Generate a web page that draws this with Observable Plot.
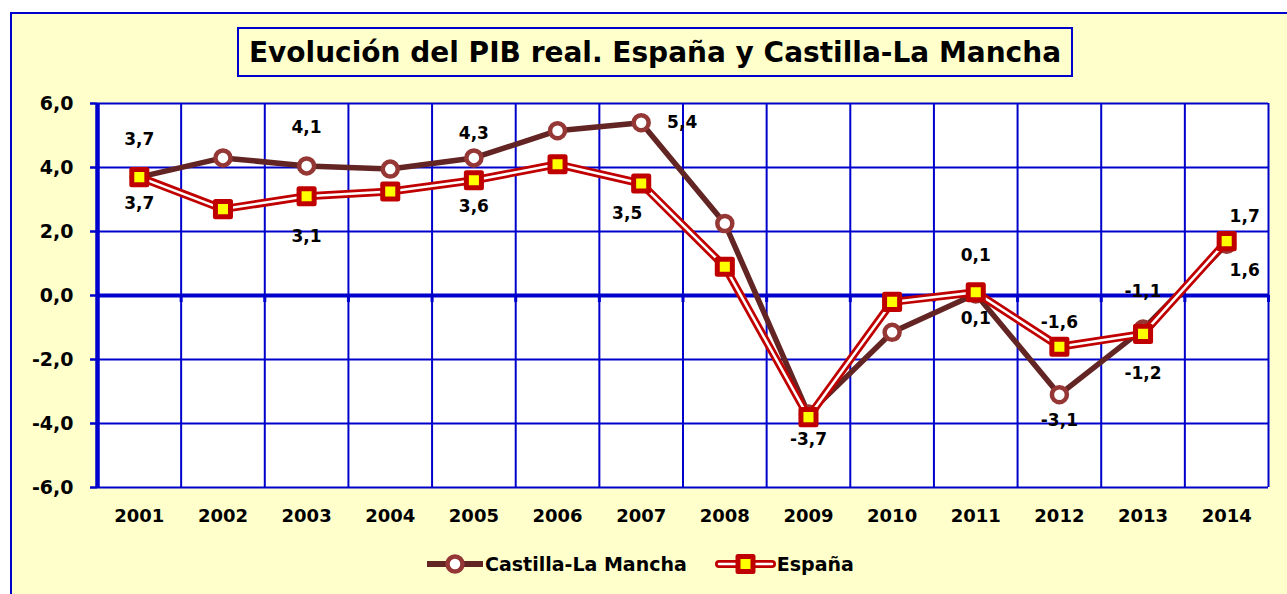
<!DOCTYPE html>
<html><head><meta charset="utf-8">
<script src="https://cdn.jsdelivr.net/npm/d3@7"></script>
<script src="https://cdn.jsdelivr.net/npm/@observablehq/plot@0.6"></script>
<style>
body{margin:0;background:#fff;}
#wrap{position:relative;width:1287px;height:594px;overflow:hidden;font-family:"DejaVu Sans",sans-serif;}
#panel{position:absolute;left:10px;top:12px;width:1320px;height:620px;background:#FFFFCC;border:2px solid #0000CC;box-sizing:border-box;}
#title{position:absolute;left:237px;top:27px;width:836px;height:50px;border:2px solid #0000CC;box-sizing:border-box;background:#FFFFCC;font-weight:bold;font-size:28px;display:flex;align-items:center;justify-content:center;white-space:nowrap;color:#000;}
#chart{position:absolute;left:0;top:0;}
#legend{position:absolute;top:551px;left:427px;display:flex;align-items:center;font-weight:bold;font-size:19px;color:#000;white-space:nowrap;}
#legend .item{display:flex;align-items:center;}
#legend svg{display:block;}
</style></head>
<body>
<div id="wrap">
  <div id="panel"></div>
  <div id="chart"></div>
  <div id="title">Evolución del PIB real. España y Castilla-La Mancha</div>
  <div id="legend"></div>
</div>
<script>
// ---- data ----
const years = [2001,2002,2003,2004,2005,2006,2007,2008,2009,2010,2011,2012,2013,2014];
const clmValues = [3.7,4.3,4.05,3.95,4.3,5.15,5.4,2.25,-3.7,-1.15,0.05,-3.1,-1.05,1.6];
const espValues = [3.7,2.7,3.1,3.25,3.6,4.1,3.5,0.9,-3.8,-0.2,0.1,-1.6,-1.2,1.7];
const yTicks = [-6,-4,-2,0,2,4,6];
const seriesNames = ["Castilla-La Mancha","España"];
// data labels: year, series index, text, placement
const labelYears  = [2001,2003,2005,2007,2009,2011,2012,2013,2014, 2001,2003,2005,2007,2011,2012,2013,2014];
const labelSeries = [0,0,0,0,0,0,0,0,0, 1,1,1,1,1,1,1,1];
const labelTexts  = ["3,7","4,1","4,3","5,4","-3,7","0,1","-3,1","-1,1","1,6", "3,7","3,1","3,6","3,5","0,1","-1,6","-1,2","1,7"];
const labelPlaces = ["high","high","above","right","below","high","below","high","belowright", "below","low","below","belowleft","below","above","low","aboveright"];

// ---- build tables ----
const clm = years.map((y,i)=>({year:y, value:clmValues[i]}));
const esp = years.map((y,i)=>({year:y, value:espValues[i]}));
const labels = labelYears.map((y,i)=>({
  year:y, text:labelTexts[i], place:labelPlaces[i],
  value:(labelSeries[i]===0?clmValues:espValues)[years.indexOf(y)]
}));
const boundaries = d3.range(years.length+1).map(i=>years[0]-0.5+i);

const BLUE = "#0000CC";
const offsets = {
  high:[0,-38], above:[0,-24], below:[0,26], low:[0,40],
  right:[41,0], belowright:[18,26], aboveright:[18,-25], belowleft:[-14,30]
};
const labelMarks = Object.entries(offsets).map(([p,[dx,dy]]) =>
  Plot.text(labels.filter(d=>d.place===p), {
    x:"year", y:"value", text:"text", dx, dy,
    fontSize:17, fontWeight:"bold", fill:"black"
  })
);
const fmt = d => d3.format(".1f")(d).replace(".",",").replace("−","-");

const chart = Plot.plot({
  width:1287, height:594,
  marginLeft:97, marginRight:19, marginTop:103, marginBottom:107,
  style:{background:"transparent", fontFamily:"DejaVu Sans, sans-serif", overflow:"visible"},
  x:{type:"linear", domain:[years[0]-0.5, years[years.length-1]+0.5]},
  y:{domain:[-6,6]},
  marks:[
    Plot.frame({fill:"white", stroke:null}),
    Plot.ruleY(yTicks, {stroke:BLUE, strokeWidth:2}),
    Plot.ruleX(boundaries, {stroke:BLUE, strokeWidth:2}),
    Plot.ruleY([0], {stroke:BLUE, strokeWidth:4}),
    Plot.ruleX(boundaries, {y1:0, y2:-0.22, stroke:BLUE, strokeWidth:3}),
    Plot.ruleX([boundaries[0]], {stroke:BLUE, strokeWidth:4.5}),
    Plot.axisY({ticks:yTicks, tickSize:7, tickPadding:17, stroke:BLUE, strokeWidth:2.5,
      fill:"black", tickFormat:fmt, fontSize:19, fontWeight:"bold", label:null}),
    Plot.axisX({ticks:years, tickSize:0, tickPadding:22, tickFormat:d=>String(d),
      fill:"black", fontSize:18, fontWeight:"bold", label:null}),
    Plot.line(clm, {x:"year", y:"value", stroke:"#632523", strokeWidth:5.5}),
    Plot.dot(clm, {x:"year", y:"value", r:7.5, fill:"white", stroke:"#953735", strokeWidth:4.5}),
    Plot.line(esp, {x:"year", y:"value", stroke:"#C00000", strokeWidth:8}),
    Plot.line(esp, {x:"year", y:"value", stroke:"white", strokeWidth:2.5}),
    Plot.dot(esp, {x:"year", y:"value", symbol:"square", r:8.5, fill:"#FFFF00", stroke:"#C00000", strokeWidth:5, strokeLinejoin:"round"}),
    ...labelMarks
  ]
});
document.getElementById("chart").appendChild(chart);

// ---- legend ----
const legend = document.getElementById("legend");
const ns = "http://www.w3.org/2000/svg";
function swatch(i){
  const s = document.createElementNS(ns,"svg");
  s.setAttribute("width", i===0?58:62); s.setAttribute("height",26);
  if(i===0){
    s.innerHTML = `<line x1="0" x2="56" y1="13" y2="13" stroke="#632523" stroke-width="6"/>
      <circle cx="28" cy="13" r="7.5" fill="white" stroke="#953735" stroke-width="4.5"/>`;
  } else {
    s.innerHTML = `<line x1="4" x2="57" y1="13" y2="13" stroke="#C00000" stroke-width="8" stroke-linecap="round"/>
      <line x1="4" x2="57" y1="13" y2="13" stroke="white" stroke-width="2.5" stroke-linecap="round"/>
      <rect x="23" y="5.5" width="15" height="15" fill="#FFFF00" stroke="#C00000" stroke-width="5" stroke-linejoin="round"/>`;
  }
  return s;
}
seriesNames.forEach((name,i)=>{
  const it = document.createElement("div");
  it.className="item";
  if(i>0) it.style.marginLeft="28px";
  it.appendChild(swatch(i));
  const t = document.createElement("span");
  t.textContent = name;
  it.appendChild(t);
  legend.appendChild(it);
});
</script>
</body></html>
